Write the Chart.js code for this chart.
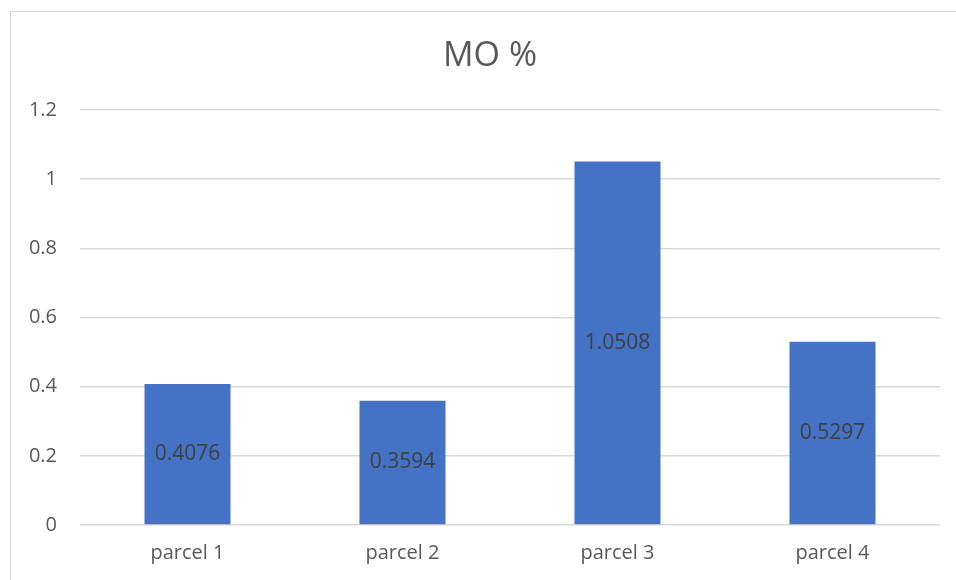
<!DOCTYPE html>
<html>
<head>
<meta charset="utf-8">
<script src="https://cdn.jsdelivr.net/npm/chart.js@4/dist/chart.umd.min.js"></script>
<style>
  html, body { margin: 0; padding: 0; background: #fff; overflow: hidden; }
  #frame { position: absolute; left: 10px; top: 11px; width: 1200px; height: 800px; border: 1px solid #d9d9d9; }
  #wrap { position: absolute; left: 0; top: 0; width: 956px; height: 580px; }
</style>
</head>
<body>
<div id="frame"></div>
<div id="wrap"><canvas id="chart"></canvas></div>
<script>
const categories = ['parcel 1', 'parcel 2', 'parcel 3', 'parcel 4'];
const moValues = [0.4076, 0.3594, 1.0508, 0.5297];
const yTickLabels = ['0', '0.2', '0.4', '0.6', '0.8', '1', '1.2'];
const chartTitle = 'MO %';

const colors = {
    bar: '#4472C4',
    grid: '#d9d9d9',
    text: '#595959',
    label: '#404040'
};

const FONT = "'Open Sans', 'DejaVu Sans', sans-serif";

// title is centred on the whole frame, not on the plot, so draw it by hand
const frameTitle = {
    id: 'frameTitle',
    afterDraw(chart) {
        const ctx = chart.ctx;
        ctx.save();
        ctx.font = `34px ${FONT}`;
        ctx.fillStyle = colors.text;
        ctx.textAlign = 'center';
        ctx.textBaseline = 'middle';
        ctx.fillText(chartTitle, 490, 56);
        ctx.restore();
    }
};

// draws the value in the middle of each bar
const barValues = {
    id: 'barValues',
    afterDatasetsDraw(chart) {
        const ctx = chart.ctx;
        const meta = chart.getDatasetMeta(0);
        ctx.save();
        ctx.font = `21px ${FONT}`;
        ctx.fillStyle = colors.label;
        ctx.textAlign = 'center';
        ctx.textBaseline = 'middle';
        meta.data.forEach((bar, i) => {
            const mid = (bar.y + bar.base) / 2;
            ctx.fillText(String(moValues[i]), bar.x, mid);
        });
        ctx.restore();
    }
};

new Chart(document.getElementById('chart'), {
    type: 'bar',
    data: {
        labels: categories,
        datasets: [{
            label: chartTitle,
            data: moValues,
            backgroundColor: colors.bar,
            borderWidth: 0,
            categoryPercentage: 1,
            barPercentage: 0.4
        }]
    },
    options: {
        responsive: true,
        maintainAspectRatio: false,
        animation: false,
        layout: { padding: { left: 0, right: 16, top: 110, bottom: 0 } },
        plugins: {
            legend: { display: false },
            tooltip: { enabled: false },
            title: { display: false }
        },
        scales: {
            x: {
                grid: { display: false, drawTicks: false },
                border: { display: false },
                ticks: {
                    color: colors.text,
                    font: { family: FONT, size: 20 },
                    padding: 16
                },
                afterFit(scale) { scale.height = 55; }
            },
            y: {
                min: 0,
                max: 1.2,
                grid: { color: colors.grid, lineWidth: 1.5, drawTicks: false },
                border: { display: false },
                ticks: {
                    stepSize: 0.2,
                    color: colors.text,
                    font: { family: FONT, size: 20 },
                    padding: 23,
                    callback: (value, index) => yTickLabels[index]
                },
                afterFit(scale) { scale.width = 80; }
            }
        }
    },
    plugins: [barValues, frameTitle]
});
</script>
</body>
</html>
